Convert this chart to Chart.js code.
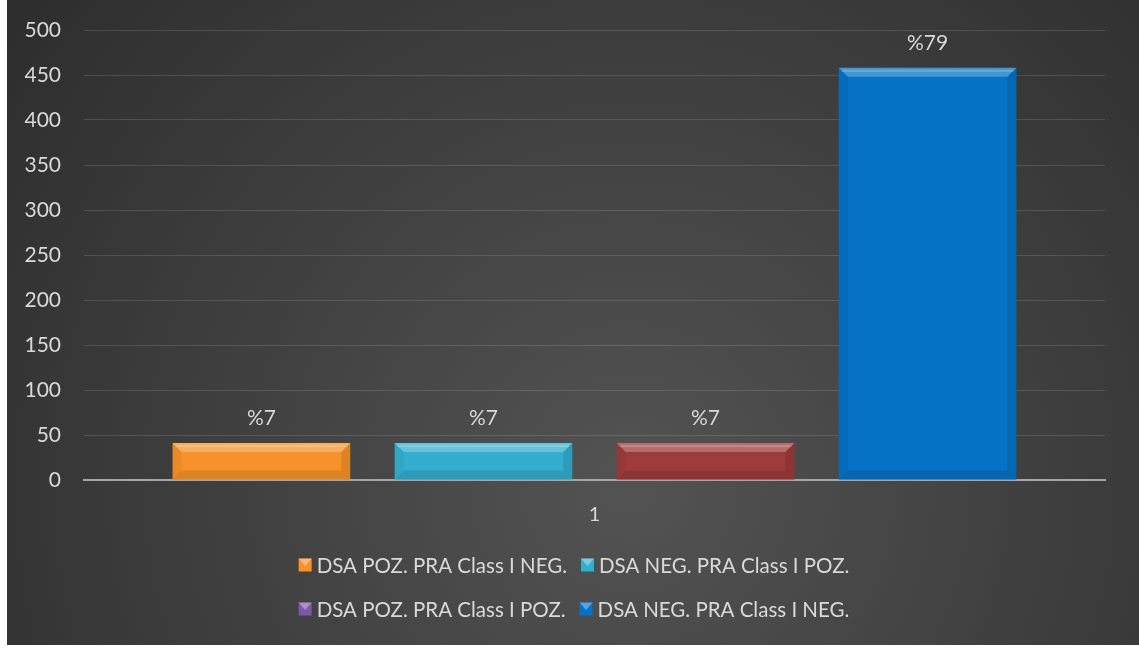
<!DOCTYPE html>
<html>
<head>
<meta charset="utf-8">
<script src="https://cdn.jsdelivr.net/npm/chart.js@4.4.1/dist/chart.umd.min.js"></script>
<style>
  html, body { margin: 0; padding: 0; background: #fff; }
  #wrap { position: absolute; left: 7px; top: 0; width: 1132px; height: 645px; }
</style>
</head>
<body>
<div id="wrap"><canvas id="grafico"></canvas></div>
<script>
// ─── DATA ────────────────────────────────────────────────
const categorias = ['1'];
const series = ['DSA POZ. PRA Class I NEG.', 'DSA NEG. PRA Class I POZ.', 'DSA POZ. PRA Class I POZ.', 'DSA NEG. PRA Class I NEG.'];
const valores = [41, 41, 41, 458];
const rotulos = ['%7', '%7', '%7', '%79'];
const yTicks = [0, 50, 100, 150, 200, 250, 300, 350, 400, 450, 500];

// cores das barras e da legenda (a legenda original mostra roxo na 3ª)
const coresBarra = ['#f7922a', '#33aecf', '#9e3b3b', '#0672c6'];
const coresLegenda = ['#f7922a', '#33aecf', '#7c58a6', '#0672c6'];

const FONTE = 'Lato, "Open Sans", sans-serif';
const TXT = '#d9d9d9';

// ─── PLUGINS ─────────────────────────────────────────────
const fundo = {
  id: 'fundo',
  beforeDraw(chart) {
    const { ctx, width, height } = chart;
    const g = ctx.createRadialGradient(width * 0.55, height * 0.75, 20, width * 0.55, height * 0.75, width * 0.75);
    g.addColorStop(0, '#525252');
    g.addColorStop(1, '#2a2a2a');
    ctx.save();
    ctx.fillStyle = g;
    ctx.fillRect(0, 0, width, height);
    ctx.restore();
  }
};

// efeito chanfrado nas barras
const chanfro = {
  id: 'chanfro',
  afterDatasetsDraw(chart) {
    const { ctx } = chart;
    chart.data.datasets.forEach((ds, i) => {
      chart.getDatasetMeta(i).data.forEach(bar => {
        const l = bar.x - bar.width / 2, r = bar.x + bar.width / 2;
        const t = bar.y, b = bar.base, s = 9;
        ctx.save();
        // topo claro
        ctx.fillStyle = 'rgba(255,255,255,0.25)';
        ctx.beginPath();
        ctx.moveTo(l, t); ctx.lineTo(r, t); ctx.lineTo(r - s, t + s); ctx.lineTo(l + s, t + s); ctx.closePath();
        ctx.fill();
        ctx.fillStyle = 'rgba(255,255,255,0.2)';
        ctx.fillRect(l + 3, t + 2, r - l - 6, 2);
        // laterais
        ctx.fillStyle = 'rgba(0,0,0,0.05)';
        ctx.beginPath();
        ctx.moveTo(l, t); ctx.lineTo(l + s, t + s); ctx.lineTo(l + s, b - s); ctx.lineTo(l, b); ctx.closePath();
        ctx.fill();
        ctx.fillStyle = 'rgba(0,0,0,0.1)';
        ctx.beginPath();
        ctx.moveTo(r, t); ctx.lineTo(r - s, t + s); ctx.lineTo(r - s, b - s); ctx.lineTo(r, b); ctx.closePath();
        ctx.fill();
        // base
        ctx.fillStyle = 'rgba(0,0,0,0.1)';
        ctx.beginPath();
        ctx.moveTo(l, b); ctx.lineTo(r, b); ctx.lineTo(r - s, b - s); ctx.lineTo(l + s, b - s); ctx.closePath();
        ctx.fill();
        ctx.restore();
      });
    });
  }
};

// rótulos de porcentagem + legenda em duas linhas
const textos = {
  id: 'textos',
  afterDraw(chart) {
    const { ctx } = chart;
    ctx.save();
    ctx.fillStyle = TXT;
    ctx.font = '21px ' + FONTE;
    ctx.textAlign = 'center';
    ctx.textBaseline = 'alphabetic';
    chart.data.datasets.forEach((ds, i) => {
      const bar = chart.getDatasetMeta(i).data[0];
      ctx.fillText(rotulos[i], bar.x, bar.y - 18);
    });

    // legenda
    ctx.font = '20.5px ' + FONTE;
    ctx.textAlign = 'left';
    ctx.textBaseline = 'middle';
    const linhas = [[0, 1], [2, 3]];
    const ys = [565, 609];
    const box = 13, gap = 5, entre = 14;
    const centro = 574 - 7;
    linhas.forEach((idx, li) => {
      const ws = idx.map(k => box + gap + ctx.measureText(series[k]).width);
      const total = ws.reduce((a, b) => a + b, 0) + entre * (idx.length - 1);
      let x = centro - total / 2;
      idx.forEach((k, j) => {
        const y = ys[li];
        ctx.fillStyle = coresLegenda[k];
        ctx.fillRect(x, y - box / 2, box, box);
        ctx.fillStyle = 'rgba(255,255,255,0.35)';
        ctx.beginPath();
        ctx.moveTo(x, y - box / 2); ctx.lineTo(x + box, y - box / 2); ctx.lineTo(x + box / 2, y + 1); ctx.closePath();
        ctx.fill();
        ctx.fillStyle = TXT;
        ctx.fillText(series[k], x + box + gap, y + 1);
        x += ws[j] + entre;
      });
    });
    ctx.restore();
  }
};

// ─── CHART ───────────────────────────────────────────────
const chart = new Chart(document.getElementById('grafico'), {
  type: 'bar',
  data: {
    labels: categorias,
    datasets: series.map((nome, i) => ({
      label: nome,
      data: [valores[i]],
      backgroundColor: coresBarra[i],
      borderWidth: 0,
      categoryPercentage: 0.87,
      barPercentage: 0.8
    }))
  },
  options: {
    responsive: true,
    maintainAspectRatio: false,
    animation: false,
    layout: { padding: { left: 17, right: 34, top: 30, bottom: 95 } },
    plugins: {
      legend: { display: false },
      tooltip: { enabled: false }
    },
    scales: {
      x: {
        grid: { display: false, drawTicks: false },
        border: { color: '#a6a6a6', width: 2 },
        ticks: { color: TXT, font: { family: FONTE, size: 20 }, padding: 23 }
      },
      y: {
        min: yTicks[0],
        max: yTicks[yTicks.length - 1],
        afterBuildTicks: axis => { axis.ticks = yTicks.map(v => ({ value: v })); },
        afterFit: axis => { axis.width = 60; axis.paddingTop = 0; axis.paddingBottom = 0; },
        grid: { color: 'rgba(255,255,255,0.13)', drawTicks: false },
        border: { display: false },
        ticks: { color: TXT, font: { family: FONTE, size: 21 }, padding: 23 }
      }
    }
  },
  plugins: [fundo, chanfro, textos]
});
</script>
</body>
</html>
